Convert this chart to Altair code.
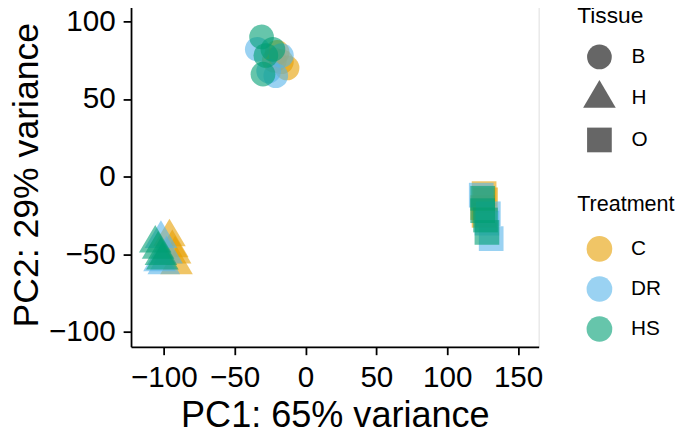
import altair as alt
import pandas as pd

tissue = ["B"] * 12 + ["H"] * 12 + ["O"] * 12
treatment = (["C"] * 4 + ["DR"] * 4 + ["HS"] * 4) * 3
pc1 = [
    -13, -17, -20, -22,   -34, -17, -21, -26,   -31, -28, -23, -30,
    -96, -92, -91, -94,   -102, -100, -103, -98,   -106, -102, -101, -104,
    126, 126, 125, 127,   124, 129, 131, 128,   125, 125, 127, 128,
]
pc2 = [
    70, 74, 80, 75,   82, 78, 65, 68,   90, 78, 82, 66,
    -39, -50, -57, -46,   -40, -57, -55, -50,   -43, -51, -54, -47,
    -11, -25, -20, -15,   -12, -24, -40, -30,   -14, -22, -28, -36,
]

tissue_levels = ["B", "H", "O"]
treatment_levels = ["C", "DR", "HS"]
treatment_colors = ["#E69F00", "#56B4E9", "#009E73"]
tri_path = "M-1.32,0.75L1.32,0.75L0,-1.49ZM0,1.49"
shape_range = ["circle", tri_path, "square"]

df = pd.DataFrame({"Tissue": tissue, "Treatment": treatment, "PC1": pc1, "PC2": pc2})
df["order"] = range(len(df))

FONT = "Liberation Sans"
H = 348.3

chart = alt.Chart(df).mark_point(filled=True, size=625, opacity=0.6, strokeWidth=0).encode(
    x=alt.X("PC1:Q",
            scale=alt.Scale(domain=[-123.1, 164.5], nice=False, zero=False),
            axis=alt.Axis(values=[-100, -50, 0, 50, 100, 150], title="PC1: 65% variance",
                          grid=False, domainColor="black", domainWidth=1.8,
                          tickColor="black", tickWidth=1.8, tickSize=8,
                          labelFontSize=30, labelColor="black", labelFont=FONT,
                          labelPadding=8, labelFlush=False,
                          titleFontSize=36.5, titleFont=FONT, titleFontWeight="normal",
                          titleColor="black", titleBaseline="alphabetic", titleY=81)),
    y=alt.Y("PC2:Q",
            scale=alt.Scale(domain=[-109.7, 112.1], nice=False, zero=False),
            axis=alt.Axis(values=[-100, -50, 0, 50, 100], title="PC2: 29% variance",
                          grid=False, domainColor="black", domainWidth=1.8,
                          tickColor="black", tickWidth=1.8, tickSize=8,
                          labelFontSize=30, labelColor="black", labelFont=FONT,
                          labelPadding=8, labelFlush=False,
                          titleFontSize=36, titleFont=FONT, titleFontWeight="normal",
                          titleColor="black", titleBaseline="alphabetic",
                          titleX=-95, titleY=H / 2)),
    shape=alt.Shape("Tissue:N",
                    scale=alt.Scale(domain=tissue_levels, range=shape_range),
                    legend=alt.Legend(title="Tissue", orient="none", legendX=451.5, legendY=3,
                                      titleFont=FONT, titleFontSize=23, titleFontWeight="normal",
                                      titleColor="black", titlePadding=16.5,
                                      labelFont=FONT, labelFontSize=21, labelColor="black",
                                      labelOffset=20, symbolSize=625, symbolOffset=10,
                                      symbolFillColor="#666666", symbolStrokeWidth=0,
                                      symbolOpacity=1, rowPadding=10, padding=0)),
    color=alt.Color("Treatment:N",
                    scale=alt.Scale(domain=treatment_levels, range=treatment_colors),
                    legend=alt.Legend(title="Treatment", orient="none", legendX=451.5, legendY=194,
                                      titleFont=FONT, titleFontSize=21.8, titleFontWeight="normal",
                                      titleColor="black", titlePadding=20.5,
                                      labelFont=FONT, labelFontSize=21, labelColor="black",
                                      labelOffset=19, symbolSize=676, symbolOffset=9.5,
                                      symbolType="circle", symbolStrokeWidth=0,
                                      symbolOpacity=0.6, rowPadding=14.5, padding=0)),
    order=alt.Order("order:Q"),
).properties(
    width=412.5,
    height=H,
    autosize=alt.AutoSizeParams(type="none"),
    padding={"left": 124.5, "top": -8, "right": 140, "bottom": 424 + 8 - H},
).configure_view(stroke=None).configure(background="white")

chart.save("out.html", embed_options={"renderer": "svg", "actions": False})
